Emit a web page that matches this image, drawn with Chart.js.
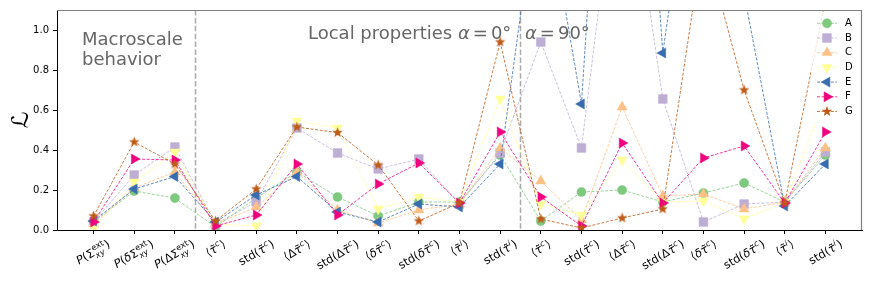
<!DOCTYPE html>
<html><head><meta charset="utf-8">
<script src="https://cdn.jsdelivr.net/npm/chart.js@4.4.1/dist/chart.umd.min.js"></script>
<style>html,body{margin:0;padding:0;background:#fff;}#wrap{width:872px;height:291px;}</style>
</head><body><div id="wrap"><canvas id="c" width="872" height="291"></canvas></div>
<script>
// ---- data ----
const T = '\u03c4\u0303';
const categories = [
  '$P$(\u03a3^{ext}_{$xy$})', '$P$($\u03b4$\u03a3^{ext}_{$xy$})', '$P$(\u0394\u03a3^{ext}_{$xy$})',
  '\u27e8$'+T+'$^{$c$}\u27e9', 'std($'+T+'$^{$c$})', '\u27e8\u0394$'+T+'$^{$c$}\u27e9', 'std(\u0394$'+T+'$^{$c$})',
  '\u27e8$\u03b4'+T+'$^{$c$}\u27e9', 'std($\u03b4'+T+'$^{$c$})', '\u27e8$'+T+'$^{$i$}\u27e9', 'std($'+T+'$^{$i$})',
  '\u27e8$'+T+'$^{$c$}\u27e9', 'std($'+T+'$^{$c$})', '\u27e8\u0394$'+T+'$^{$c$}\u27e9', 'std(\u0394$'+T+'$^{$c$})',
  '\u27e8$\u03b4'+T+'$^{$c$}\u27e9', 'std($\u03b4'+T+'$^{$c$})', '\u27e8$'+T+'$^{$i$}\u27e9', 'std($'+T+'$^{$i$})'
];
const seriesNames = ['A','B','C','D','E','F','G'];
const seriesA = [0.04,0.195,0.16,0.015,0.16,0.29,0.165,0.07,0.14,0.14,0.375,0.045,0.19,0.20,0.14,0.185,0.235,0.14,0.375];
const seriesB = [0.04,0.275,0.415,0.03,0.14,0.51,0.385,0.305,0.355,0.13,0.385,0.94,0.41,2.05,0.655,0.04,0.13,0.14,0.39];
const seriesC = [0.03,0.21,0.29,0.03,0.115,0.29,0.10,0.035,0.10,0.13,0.41,0.245,0.05,0.615,0.17,0.18,0.105,0.14,0.41];
const seriesD = [0.01,0.24,0.39,0.03,0.02,0.545,0.51,0.105,0.165,0.14,0.655,0.13,0.075,0.35,0.14,0.145,0.055,0.14,0.66];
const seriesE = [0.045,0.205,0.267,0.04,0.175,0.267,0.09,0.04,0.13,0.115,0.33,1.82,0.63,3.8,0.885,2.3,1.18,0.12,0.33];
const seriesF = [0.04,0.355,0.35,0.02,0.075,0.33,0.075,0.23,0.335,0.135,0.49,0.165,0.02,0.435,0.135,0.36,0.42,0.135,0.49];
const seriesG = [0.07,0.44,0.33,0.045,0.205,0.515,0.487,0.325,0.045,0.135,0.94,0.055,0.01,0.06,0.105,1.46,0.70,0.135,1.15];
const yTicks = [0.0,0.2,0.4,0.6,0.8,1.0];
const dividers = [2.5, 10.5];

// ---- styling ----
const allSeries = [seriesA,seriesB,seriesC,seriesD,seriesE,seriesF,seriesG];
const colors = ['#7fc97f','#beaed4','#fdc086','#ffff99','#386cb0','#f0027f','#bf5b17'];
const markers = [
  {style:'circle', r:4.6, rot:0},
  {style:'rect', r:6.2, rot:0},
  {style:'triangle', r:5.8, rot:0},
  {style:'triangle', r:5.8, rot:180},
  {style:'triangle', r:5.8, rot:-90},
  {style:'triangle', r:5.8, rot:90},
  {style:'star', r:5.5, rot:0}
];
function hexA(h,a){const n=parseInt(h.slice(1),16);return `rgba(${n>>16},${(n>>8)&255},${n&255},${a})`;}
function starPath(g,cx,cy,R){g.beginPath();for(let k=0;k<10;k++){const rr=k%2?R*0.42:R;const a=-Math.PI/2+k*Math.PI/5;const px=cx+rr*Math.cos(a),py=cy+rr*Math.sin(a);k?g.lineTo(px,py):g.moveTo(px,py);}g.closePath();}
function makeStar(color,R){const c=document.createElement('canvas');const s=Math.ceil(2*R+2);c.width=s;c.height=s;const g=c.getContext('2d');g.fillStyle=color;starPath(g,s/2,s/2,R);g.fill();return c;}

const datasets = allSeries.map((vals,i)=>{
  const m = markers[i];
  return {
    label: seriesNames[i],
    data: vals.map((v,k)=>({x:k,y:v})),
    borderColor: hexA(colors[i],0.8), borderWidth:1, borderDash:[3,1.6],
    backgroundColor: colors[i],
    pointStyle: m.style==='star'? makeStar(colors[i],m.r) : m.style,
    pointRadius: m.r, pointRotation: m.rot,
    pointBackgroundColor: colors[i], pointBorderColor: colors[i], pointBorderWidth:0.5,
    pointHoverRadius: m.r, tension:0, order: 6-i
  };
});

// ---- math label helpers ----
function fontStr(it,size){return (it?'italic ':'')+size+'px "DejaVu Sans"';}
function parseMarkup(s){
  const atoms=[];let italic=false;let i=0;
  const readGroup=()=>{i++;let out='';while(i<s.length&&s[i]!=='}'){out+=s[i];i++;}i++;return out;};
  while(i<s.length){
    const ch=s[i];
    if(ch==='$'){italic=!italic;i++;continue;}
    if(ch==='^'||ch==='_'){
      i++;const g=readGroup();const it=g.indexOf('$')>=0;const txt=g.replace(/\$/g,'');
      const last=atoms[atoms.length-1];
      if(last&&last.type==='script'){ if(ch==='^'){last.sup=txt;last.supIt=it;} else {last.sub=txt;last.subIt=it;} }
      else atoms.push({type:'script',sup:ch==='^'?txt:'',supIt:ch==='^'?it:false,sub:ch==='_'?txt:'',subIt:ch==='_'?it:false});
      continue;
    }
    i++;let tilde=false;if(s[i]==='\u0303'){tilde=true;i++;}
    atoms.push({type:'char',text:ch,italic,tilde});
  }
  return atoms;
}
function layoutLabel(ctx,markup,size){
  const atoms=parseMarkup(markup);const ss=size*0.7;let x=0;const items=[];let hasSup=false,hasSub=false;
  for(const a of atoms){
    if(a.type==='char'){
      ctx.font=fontStr(a.italic,size);const w=ctx.measureText(a.text).width;
      items.push({text:a.text,font:ctx.font,x,y:0});
      if(a.tilde){ctx.font=fontStr(false,size);const tw=ctx.measureText('\u02dc').width;items.push({text:'\u02dc',font:ctx.font,x:x+w/2-tw/2+(a.italic?0.08*size:0),y:0.02*size});}
      x+=w;
    } else {
      const both=a.sup&&a.sub;let wm=0;
      if(a.sup){ctx.font=fontStr(a.supIt,ss);const w=ctx.measureText(a.sup).width;items.push({text:a.sup,font:ctx.font,x:x+0.3,y:both?-0.42*size:-0.4*size});wm=Math.max(wm,w);hasSup=true;}
      if(a.sub){ctx.font=fontStr(a.subIt,ss);const w=ctx.measureText(a.sub).width;items.push({text:a.sub,font:ctx.font,x:x+0.3,y:both?0.3*size:0.2*size});wm=Math.max(wm,w);hasSub=true;}
      x+=wm+0.8;
    }
  }
  const top=hasSup?-(0.42*size+0.74*ss):-0.78*size;
  const bottom=hasSub?(0.3*size+0.22*ss):0.24*size;
  return {items,w:x,top,bottom};
}
function drawMarker(ctx,i,x,y){
  const m=markers[i];ctx.save();ctx.fillStyle=colors[i];ctx.strokeStyle=colors[i];ctx.lineWidth=0.5;ctx.setLineDash([]);
  if(m.style==='star'){starPath(ctx,x,y,m.r);ctx.fill();ctx.restore();return;}
  ctx.beginPath();
  if(m.style==='circle'){ctx.arc(x,y,m.r,0,Math.PI*2);}
  else if(m.style==='rect'){const s=Math.SQRT1_2*m.r;ctx.rect(x-s,y-s,2*s,2*s);}
  else {let rad=m.rot*Math.PI/180;for(let k=0;k<3;k++){const px=x+Math.sin(rad)*m.r,py=y-Math.cos(rad)*m.r;k?ctx.lineTo(px,py):ctx.moveTo(px,py);rad+=2*Math.PI/3;}ctx.closePath();}
  ctx.fill();ctx.stroke();ctx.restore();
}

const overlay = {
  id:'overlay',
  beforeDatasetsDraw(chart){
    const {ctx,chartArea:a,scales:{x}}=chart;
    ctx.save();ctx.strokeStyle='#aaaaaa';ctx.lineWidth=1.5;ctx.setLineDash([5.5,2.4]);
    dividers.forEach(d=>{const px=Math.round(x.getPixelForValue(d))+0.5;ctx.beginPath();ctx.moveTo(px,a.top);ctx.lineTo(px,a.bottom);ctx.stroke();});
    ctx.restore();
  },
  afterDatasetsDraw(chart){
    const {ctx,chartArea:a}=chart;
    ctx.save();
    ctx.fillStyle='#666666';ctx.textBaseline='alphabetic';ctx.textAlign='left';
    ctx.font='18px "DejaVu Sans"';
    ctx.fillText('Macroscale',a.left+25,45);
    ctx.fillText('behavior',a.left+25,64.5);
    let px=308;
    ctx.fillText('Local properties',px,39);px+=ctx.measureText('Local properties ').width;
    const mathPieces=(start,num)=>{let q=start;ctx.font='italic 18px "DejaVu Sans"';ctx.fillText('\u03b1',q,39);q+=ctx.measureText('\u03b1').width+3;
      ctx.font='18px "DejaVu Sans"';ctx.fillText('=',q,39);q+=ctx.measureText('=').width+3;ctx.fillText(num,q,39);q+=ctx.measureText(num).width;ctx.fillText('\u00b0',q,39);};
    mathPieces(px,'0');
    mathPieces(525,'90');
    // legend
    const lx=811,ly=13,lw=49,lh=109;
    ctx.fillStyle='rgba(255,255,255,0.8)';ctx.fillRect(lx,ly,lw,lh);
    for(let i=0;i<7;i++){
      const yy=23.3+14.7*i;
      ctx.strokeStyle=hexA(colors[i],0.8);ctx.lineWidth=1;ctx.setLineDash([3,1.6]);
      ctx.beginPath();ctx.moveTo(817,yy);ctx.lineTo(837,yy);ctx.stroke();
      drawMarker(ctx,i,827,yy);
      ctx.fillStyle='#000';ctx.font='10px "DejaVu Sans"';ctx.textBaseline='middle';ctx.fillText(seriesNames[i],845,yy);
    }
    ctx.restore();
  },
  afterDraw(chart){
    const {ctx,chartArea:a,scales:{x}}=chart;
    ctx.save();
    ctx.strokeStyle='#808080';ctx.lineWidth=1.2;ctx.setLineDash([]);
    ctx.beginPath();ctx.moveTo(a.left,a.top+0.5);ctx.lineTo(a.right-0.5,a.top+0.5);ctx.lineTo(a.right-0.5,a.bottom);ctx.stroke();
    // x tick labels (mathematical)
    const size=11.5,th=30*Math.PI/180,topY=a.bottom+7;
    ctx.fillStyle='#000';ctx.textAlign='left';ctx.textBaseline='alphabetic';
    categories.forEach((lab,i)=>{
      const L=layoutLabel(ctx,lab,size);const h=L.bottom-L.top;
      const H=L.w*Math.sin(th)+h*Math.cos(th);
      const cx=x.getPixelForValue(i),cy=topY+H/2;
      ctx.save();ctx.translate(cx,cy);ctx.rotate(-th);
      const baseY=-(L.top+L.bottom)/2,x0=-L.w/2;
      L.items.forEach(it=>{ctx.font=it.font;ctx.fillText(it.text,x0+it.x,baseY+it.y);});
      ctx.restore();
    });
    ctx.restore();
  }
};

new Chart(document.getElementById('c'),{
  type:'line',
  data:{datasets},
  options:{
    responsive:false,animation:false,devicePixelRatio:1,
    layout:{padding:{top:10,right:10,left:0,bottom:0}},
    plugins:{legend:{display:false},tooltip:{enabled:false}},
    scales:{
      x:{type:'linear',min:-0.9,max:18.9,
        afterBuildTicks(s){s.ticks=categories.map((_,i)=>({value:i}));},
        ticks:{display:true,autoSkip:false,maxRotation:0,callback:()=>''},
        grid:{drawOnChartArea:false,drawTicks:true,tickLength:4,color:'#000',tickColor:'#000'},
        border:{display:true,color:'#000',width:1},
        afterFit(s){s.height=61;}},
      y:{min:0,max:1.1,
        afterBuildTicks(s){s.ticks=yTicks.map(v=>({value:v}));},
        ticks:{font:{family:'DejaVu Sans',size:10},color:'#000',padding:4,callback:v=>Number(v).toFixed(1)},
        grid:{drawOnChartArea:false,drawTicks:true,tickLength:4,color:'#000',tickColor:'#000'},
        border:{display:true,color:'#000',width:1},
        title:{display:true,text:'\u2112',font:{family:'DejaVu Sans',size:23},color:'#000',padding:{top:8,bottom:0}},
        afterFit(s){s.width=57;}}
    }
  },
  plugins:[overlay]
});
</script></body></html>
